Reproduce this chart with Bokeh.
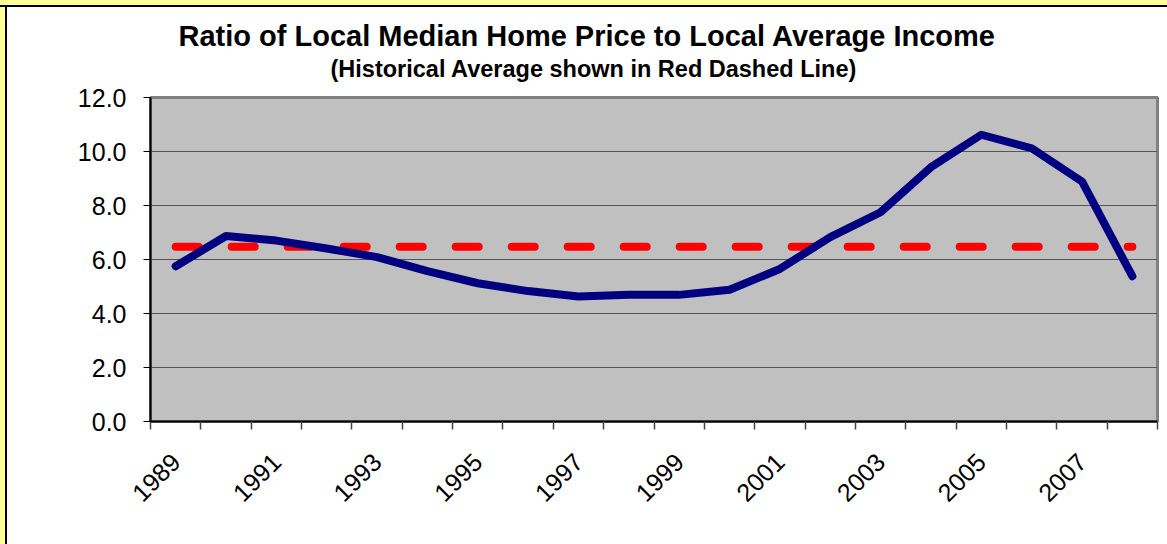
from bokeh.plotting import figure
from bokeh.models import (Range1d, FixedTicker, Title, NumeralTickFormatter,
                          GlobalInlineStyleSheet)
from bokeh.embed import file_html
from bokeh.resources import INLINE
import math

# ---- data ----
years = [1989, 1990, 1991, 1992, 1993, 1994, 1995, 1996, 1997, 1998,
         1999, 2000, 2001, 2002, 2003, 2004, 2005, 2006, 2007, 2008]
ratio = [5.75, 6.87, 6.70, 6.41, 6.09, 5.57, 5.12, 4.83, 4.63, 4.69,
         4.69, 4.88, 5.65, 6.83, 7.75, 9.42, 10.62, 10.12, 8.89, 5.38]
historical_avg = 6.47
label_years = [1989, 1991, 1993, 1995, 1997, 1999, 2001, 2003, 2005, 2007]
y_ticks = [0, 2, 4, 6, 8, 10, 12]
title_text = "Ratio of Local Median Home Price to Local Average Income"
subtitle_text = "(Historical Average shown in Red Dashed Line)"

FONT = "Liberation Sans"

page_css = GlobalInlineStyleSheet(css="""
html { background:
  linear-gradient(to bottom, #ffff99 0px, #ffff99 5px, #000 5px, #000 7px, transparent 7px),
  linear-gradient(to right, #ffff99 0px, #ffff99 5px, #000 5px, #000 7px, #ffffff 7px);
  background-repeat: no-repeat; }
body { background: transparent !important; padding: 7px 0 0 7px !important; }
""")

p = figure(width=1160, height=537, output_backend="svg", toolbar_location=None,
           x_range=Range1d(years[0] - 0.5, years[-1] + 0.5),
           y_range=Range1d(0, 12),
           min_border_left=143, min_border_top=90, min_border_right=10,
           min_border_bottom=123,
           background_fill_color="#c0c0c0", border_fill_color="#ffffff",
           outline_line_color="#808080", outline_line_width=3,
           stylesheets=[page_css])

# grid
p.xgrid.grid_line_color = None
p.ygrid.grid_line_color = "#555555"
p.ygrid.grid_line_width = 1
p.ygrid.ticker = FixedTicker(ticks=y_ticks)

# y axis
p.yaxis.ticker = FixedTicker(ticks=y_ticks)
p.yaxis.formatter = NumeralTickFormatter(format="0.0")
p.yaxis.major_label_text_font = FONT
p.yaxis.major_label_text_font_size = "25px"
p.yaxis.major_label_text_color = "#000000"
p.yaxis.major_label_standoff = 17
p.yaxis.major_tick_in = 0
p.yaxis.major_tick_out = 7
p.yaxis.major_tick_line_color = "#000000"
p.yaxis.minor_tick_line_color = None
p.yaxis.axis_line_color = "#000000"
p.yaxis.axis_line_width = 2

# x axis
minor = [y - 0.5 for y in years] + [years[-1] + 0.5]
p.xaxis.ticker = FixedTicker(ticks=label_years, minor_ticks=minor)
p.xaxis.major_tick_line_color = None
p.xaxis.minor_tick_in = 0
p.xaxis.minor_tick_out = 8
p.xaxis.minor_tick_line_color = "#444444"
p.xaxis.minor_tick_line_width = 1.5
p.xaxis.axis_line_color = "#000000"
p.xaxis.axis_line_width = 2
p.xaxis.major_label_orientation = math.pi / 4
p.xaxis.major_label_text_font = FONT
p.xaxis.major_label_text_font_size = "25px"
p.xaxis.major_label_text_color = "#000000"
p.xaxis.major_label_standoff = 28

# historical average (red dashed)
p.line([years[0], years[-1]], [historical_avg, historical_avg],
       line_color="#ff0000", line_width=8, line_dash="23 33",
       line_cap="round")

# ratio line
p.line(years, ratio, line_color="#000080", line_width=8,
       line_join="round", line_cap="round")

# titles (subtitle added first -> closest to plot)
p.add_layout(Title(text=subtitle_text, align="left", offset=180,
                   text_font=FONT, text_font_size="23.5px",
                   text_font_style="bold", text_color="#000000",
                   standoff=32), "above")
p.add_layout(Title(text=title_text, align="left", offset=28,
                   text_font=FONT, text_font_size="29px",
                   text_font_style="bold", text_color="#000000",
                   standoff=-28), "above")

open("out.html", "w").write(file_html(p, INLINE))
